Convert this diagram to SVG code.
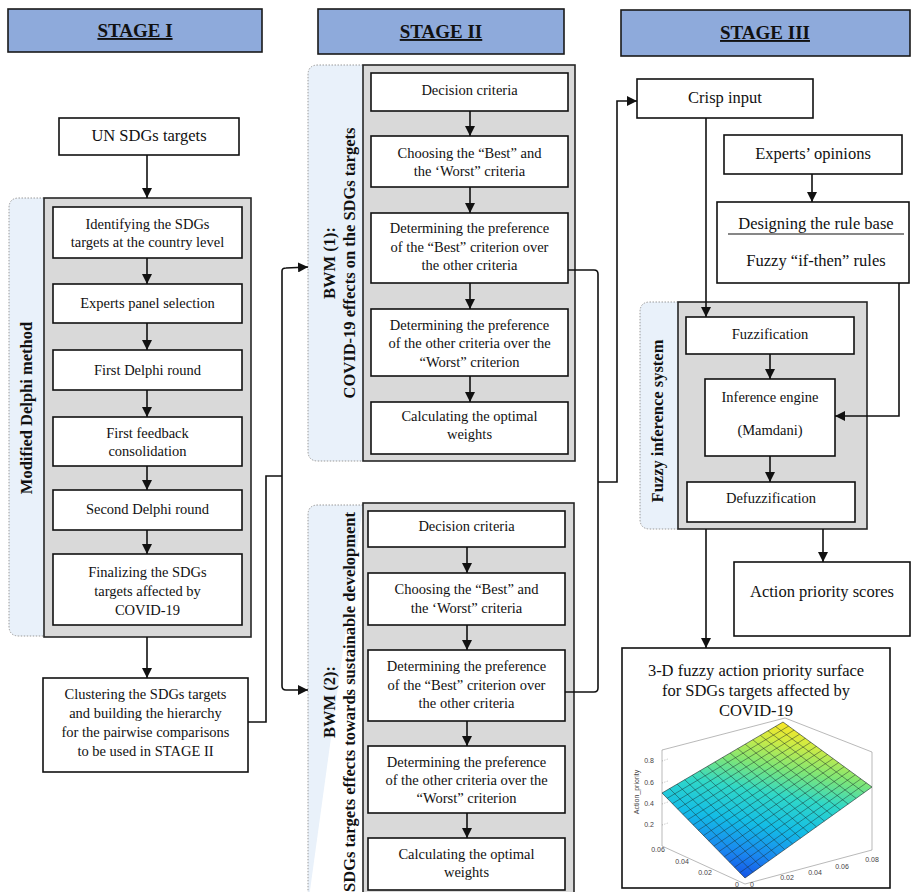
<svg xmlns="http://www.w3.org/2000/svg" width="911" height="892" viewBox="0 0 911 892">
<style>
.hdr{fill:#8eaadb;stroke:#1a1a1a;stroke-width:1.6}
.ht{font-family:"Liberation Serif",serif;font-weight:bold;font-size:19px;text-decoration:underline;text-anchor:middle;fill:#111}
.grp{fill:#d9d9d9;stroke:#262626;stroke-width:1.6}
.band{fill:#e9f1fa;stroke:#9a9a9a;stroke-width:1;stroke-dasharray:1.5 1.5}
.box{fill:#fff;stroke:#111;stroke-width:1.6}
.t{font-family:"Liberation Serif",serif;font-size:14.5px;text-anchor:middle;fill:#111}
.tl{font-family:"Liberation Serif",serif;font-size:16.5px;text-anchor:middle;fill:#111}
.rt{font-family:"Liberation Serif",serif;font-weight:bold;font-size:16.5px;text-anchor:middle;fill:#111}
.c{fill:none;stroke:#111;stroke-width:1.6}
.ax{fill:none;stroke:#8a8a8a;stroke-width:0.6}
.tk{font-family:"Liberation Sans",sans-serif;font-size:7px;fill:#444;text-anchor:middle}
.mesh{stroke:#1a2a2a;stroke-width:0.55;fill:none;opacity:0.85}
</style>
<defs>
<marker id="ah" markerUnits="userSpaceOnUse" markerWidth="10" markerHeight="10" refX="10" refY="5" orient="auto">
<path d="M0,0 L10,5 L0,10 z" fill="#111"/>
</marker>
<linearGradient id="surf" gradientUnits="userSpaceOnUse" x1="750" y1="880" x2="780" y2="722">
<stop offset="0" stop-color="#1552e6"/>
<stop offset="0.15" stop-color="#1a86f0"/>
<stop offset="0.35" stop-color="#14bde6"/>
<stop offset="0.55" stop-color="#30d8c8"/>
<stop offset="0.72" stop-color="#7fe676"/>
<stop offset="0.88" stop-color="#cdeb45"/>
<stop offset="1" stop-color="#f8e626"/>
</linearGradient>
</defs>
<rect width="911" height="892" fill="#fff"/>

<!-- stage headers -->
<g id="stage1"><rect class="hdr" x="8" y="9" width="254" height="43"/><text class="ht" x="135" y="37">STAGE I</text></g>
<g id="stage2"><rect class="hdr" x="318" y="9" width="246" height="45"/><text class="ht" x="441" y="38">STAGE II</text></g>
<g id="stage3"><rect class="hdr" x="621" y="10" width="289" height="46"/><text class="ht" x="765" y="39">STAGE III</text></g>

<!-- group containers -->
<g id="delphi">
<path class="band" d="M44,198 L19,198 Q9,198 9,208 L9,626 Q9,636 19,636 L44,636"/>
<rect class="grp" x="44" y="198" width="207" height="439"/>
<text class="rt" transform="translate(32,408) rotate(-90)">Modified Delphi method</text>
</g>
<g id="bwm1">
<path class="band" d="M363,65 L318,65 Q308,65 308,75 L308,451 Q308,461 318,461 L363,461"/>
<rect class="grp" x="363" y="65" width="212" height="396"/>
<text class="rt" transform="translate(335,263) rotate(-90)">BWM (1):</text>
<text class="rt" transform="translate(355,263) rotate(-90)">COVID-19 effects on the SDGs targets</text>
</g>
<g id="bwm2">
<path class="band" d="M363,505 L318,505 Q308,505 308,515 L308,905"/>
<rect class="grp" x="363" y="503" width="211" height="400"/>
<text class="rt" transform="translate(335,702) rotate(-90)">BWM (2):</text>
<text class="rt" transform="translate(355,702) rotate(-90)">SDGs targets effects towards sustainable development</text>
</g>
<g id="fis">
<path class="band" d="M678,302 L650,302 Q640,302 640,312 L640,519 Q640,529 650,529 L678,529"/>
<rect class="grp" x="678" y="302" width="189" height="227"/>
<text class="rt" transform="translate(663,421) rotate(-90)">Fuzzy inference system</text>
</g>

<!-- Stage I nodes -->
<g id="un"><rect class="box" x="59" y="118" width="180" height="37"/><text class="tl" x="149" y="141">UN SDGs targets</text></g>
<g id="d1"><rect class="box" x="53" y="207" width="189" height="51"/><text class="t" x="147.5" y="229">Identifying the SDGs</text><text class="t" x="147.5" y="247">targets at the country level</text></g>
<g id="d2"><rect class="box" x="53" y="284" width="189" height="39"/><text class="t" x="147.5" y="308">Experts panel selection</text></g>
<g id="d3"><rect class="box" x="53" y="350" width="189" height="40"/><text class="t" x="147.5" y="375">First Delphi round</text></g>
<g id="d4"><rect class="box" x="53" y="417" width="189" height="49"/><text class="t" x="147.5" y="438">First feedback</text><text class="t" x="147.5" y="456">consolidation</text></g>
<g id="d5"><rect class="box" x="53" y="490" width="189" height="40"/><text class="t" x="147.5" y="514">Second Delphi round</text></g>
<g id="d6"><rect class="box" x="53" y="554" width="189" height="71"/><text class="t" x="147.5" y="577">Finalizing the SDGs</text><text class="t" x="147.5" y="596">targets affected by</text><text class="t" x="147.5" y="615">COVID-19</text></g>
<g id="cluster"><rect class="box" x="43" y="678" width="205" height="94"/><text class="t" x="145.5" y="699">Clustering the SDGs targets</text><text class="t" x="145.5" y="718">and building the hierarchy</text><text class="t" x="145.5" y="737">for the pairwise comparisons</text><text class="t" x="145.5" y="756">to be used in STAGE II</text></g>

<!-- Stage II BWM1 nodes -->
<g id="b1a"><rect class="box" x="371" y="73" width="197" height="38"/><text class="t" x="469.5" y="95">Decision criteria</text></g>
<g id="b1b"><rect class="box" x="371" y="136" width="197" height="51"/><text class="t" x="469.5" y="158">Choosing the “Best” and</text><text class="t" x="469.5" y="176">the ‘Worst” criteria</text></g>
<g id="b1c"><rect class="box" x="371" y="213" width="197" height="70"/><text class="t" x="469.5" y="233">Determining the preference</text><text class="t" x="469.5" y="251.5">of the “Best” criterion over</text><text class="t" x="469.5" y="270">the other criteria</text></g>
<g id="b1d"><rect class="box" x="371" y="309" width="197" height="67"/><text class="t" x="469.5" y="330">Determining the preference</text><text class="t" x="469.5" y="348">of the other criteria over the</text><text class="t" x="469.5" y="367">“Worst” criterion</text></g>
<g id="b1e"><rect class="box" x="371" y="402" width="197" height="52"/><text class="t" x="469.5" y="421">Calculating the optimal</text><text class="t" x="469.5" y="439">weights</text></g>

<!-- Stage II BWM2 nodes -->
<g id="b2a"><rect class="box" x="368" y="511" width="197" height="36"/><text class="t" x="466.5" y="531">Decision criteria</text></g>
<g id="b2b"><rect class="box" x="368" y="573" width="197" height="52"/><text class="t" x="466.5" y="594">Choosing the “Best” and</text><text class="t" x="466.5" y="613">the ‘Worst” criteria</text></g>
<g id="b2c"><rect class="box" x="368" y="650" width="197" height="71"/><text class="t" x="466.5" y="671">Determining the preference</text><text class="t" x="466.5" y="689.5">of the “Best” criterion over</text><text class="t" x="466.5" y="708">the other criteria</text></g>
<g id="b2d"><rect class="box" x="368" y="746" width="197" height="67"/><text class="t" x="466.5" y="767">Determining the preference</text><text class="t" x="466.5" y="785">of the other criteria over the</text><text class="t" x="466.5" y="803">“Worst” criterion</text></g>
<g id="b2e"><rect class="box" x="368" y="838" width="197" height="52"/><text class="t" x="466.5" y="859">Calculating the optimal</text><text class="t" x="466.5" y="877">weights</text></g>

<!-- Stage III nodes -->
<g id="crisp"><rect class="box" x="637" y="79" width="176" height="39"/><text class="tl" x="725" y="103">Crisp input</text></g>
<g id="experts"><rect class="box" x="724" y="135" width="178" height="39"/><text class="tl" x="813" y="159">Experts’ opinions</text></g>
<g id="rulebase"><rect class="box" x="717" y="202" width="192" height="81"/><text class="tl" x="816" y="229">Designing the rule base</text><line x1="728" y1="234" x2="904" y2="234" stroke="#111" stroke-width="1.2"/><text class="tl" x="816" y="266">Fuzzy “if-then” rules</text></g>
<g id="fuzz"><rect class="box" x="686" y="317" width="168" height="37"/><text class="t" x="770" y="338.5">Fuzzification</text></g>
<g id="infer"><rect class="box" x="705" y="379" width="130" height="77"/><text class="t" x="770" y="402">Inference engine</text><text class="t" x="770" y="435">(Mamdani)</text></g>
<g id="defuzz"><rect class="box" x="687" y="482" width="168" height="40"/><text class="t" x="771" y="503">Defuzzification</text></g>
<g id="scores"><rect class="box" x="734" y="562" width="176" height="74"/><text class="tl" x="822" y="597">Action priority scores</text></g>

<g id="surface">
<rect class="box" x="622" y="648" width="268" height="240"/>
<text class="tl" x="756" y="676">3-D fuzzy action priority surface</text>
<text class="tl" x="756" y="696">for SDGs targets affected by</text>
<text class="tl" x="756" y="716">COVID-19</text>
<path class="ax" d="M662,846 L662,750 L785,718 L872,752 L872,850 M662,846 L745,884 L872,850"/>
<path class="ax" stroke-dasharray="1 1.5" d="M662,761 L668,759 M662,783 L668,781 M662,804 L668,802 M662,825 L668,823"/>
<polygon points="745,878 662,793 783,722 872,787" fill="url(#surf)" stroke="#1a2a2a" stroke-width="0.6"/>
<path class="mesh" d="M739.8,872.7 L866.4,782.9 M734.6,867.4 L860.9,778.9 M729.4,862.1 L855.3,774.8 M724.3,856.8 L849.8,770.8 M719.1,851.4 L844.2,766.7 M713.9,846.1 L838.6,762.6 M708.7,840.8 L833.1,758.6 M703.5,835.5 L827.5,754.5 M698.3,830.2 L821.9,750.4 M693.1,824.9 L816.4,746.4 M687.9,819.6 L810.8,742.3 M682.8,814.3 L805.3,738.3 M677.6,808.9 L799.7,734.2 M672.4,803.6 L794.1,730.1 M667.2,798.3 L788.6,726.1"/>
<path class="mesh" d="M752.9,872.3 L669.6,788.6 M760.9,866.6 L677.1,784.1 M768.8,860.9 L684.7,779.7 M776.8,855.3 L692.3,775.3 M784.7,849.6 L699.8,770.8 M792.6,843.9 L707.4,766.4 M800.6,838.2 L714.9,761.9 M808.5,832.5 L722.5,757.5 M816.4,826.8 L730.1,753.1 M824.4,821.1 L737.6,748.6 M832.3,815.4 L745.2,744.2 M840.3,809.8 L752.8,739.8 M848.2,804.1 L760.3,735.3 M856.1,798.4 L767.9,730.8 M864.1,792.7 L775.4,726.4"/>
<text class="tk" x="649" y="763">0.8</text>
<text class="tk" x="649" y="785">0.6</text>
<text class="tk" x="649" y="806">0.4</text>
<text class="tk" x="649" y="827">0.2</text>
<text class="tk" transform="translate(639,792) rotate(-90)">Action_priority</text>
<text class="tk" x="658" y="852">0.06</text>
<text class="tk" x="682" y="864">0.04</text>
<text class="tk" x="705" y="875">0.02</text>
<text class="tk" x="737" y="887">0</text>
<text class="tk" x="752" y="887">0</text>
<text class="tk" x="787" y="880">0.02</text>
<text class="tk" x="815" y="875">0.04</text>
<text class="tk" x="842" y="869">0.06</text>
<text class="tk" x="872" y="862">0.08</text>
</g>

<!-- connectors -->
<g id="connectors">
<line class="c" x1="147" y1="155" x2="147" y2="198" marker-end="url(#ah)"/>
<line class="c" x1="147" y1="258" x2="147" y2="284" marker-end="url(#ah)"/>
<line class="c" x1="147" y1="323" x2="147" y2="350" marker-end="url(#ah)"/>
<line class="c" x1="147" y1="390" x2="147" y2="417" marker-end="url(#ah)"/>
<line class="c" x1="147" y1="466" x2="147" y2="490" marker-end="url(#ah)"/>
<line class="c" x1="147" y1="530" x2="147" y2="554" marker-end="url(#ah)"/>
<line class="c" x1="147" y1="637" x2="147" y2="678" marker-end="url(#ah)"/>
<path class="c" d="M248,722 L266,722 L266,476 L282,476"/>
<path class="c" d="M282,476 L282,271 Q282,268 286,268 L308,267" marker-end="url(#ah)"/>
<path class="c" d="M282,476 L282,686 Q282,690 286,690 L308,690" marker-end="url(#ah)"/>
<line class="c" x1="470" y1="111" x2="470" y2="136" marker-end="url(#ah)"/>
<line class="c" x1="470" y1="187" x2="470" y2="213" marker-end="url(#ah)"/>
<line class="c" x1="470" y1="283" x2="470" y2="309" marker-end="url(#ah)"/>
<line class="c" x1="470" y1="376" x2="470" y2="402" marker-end="url(#ah)"/>
<line class="c" x1="467" y1="547" x2="467" y2="573" marker-end="url(#ah)"/>
<line class="c" x1="467" y1="625" x2="467" y2="650" marker-end="url(#ah)"/>
<line class="c" x1="467" y1="721" x2="467" y2="746" marker-end="url(#ah)"/>
<line class="c" x1="467" y1="813" x2="467" y2="838" marker-end="url(#ah)"/>
<path class="c" d="M568,270 L594,270 Q598,270 598,274 L598,688 Q598,692 594,692 L565,692"/>
<path class="c" d="M598,482 L617,482 L617,101 L637,101" marker-end="url(#ah)"/>
<line class="c" x1="706" y1="118" x2="706" y2="317" marker-end="url(#ah)"/>
<line class="c" x1="812" y1="174" x2="812" y2="202" marker-end="url(#ah)"/>
<path class="c" d="M899,283 L899,416 L835,416" marker-end="url(#ah)"/>
<line class="c" x1="770" y1="354" x2="770" y2="379" marker-end="url(#ah)"/>
<line class="c" x1="770" y1="456" x2="770" y2="482" marker-end="url(#ah)"/>
<line class="c" x1="823" y1="529" x2="823" y2="562" marker-end="url(#ah)"/>
<line class="c" x1="706" y1="529" x2="706" y2="648" marker-end="url(#ah)"/>
</g>
</svg>
